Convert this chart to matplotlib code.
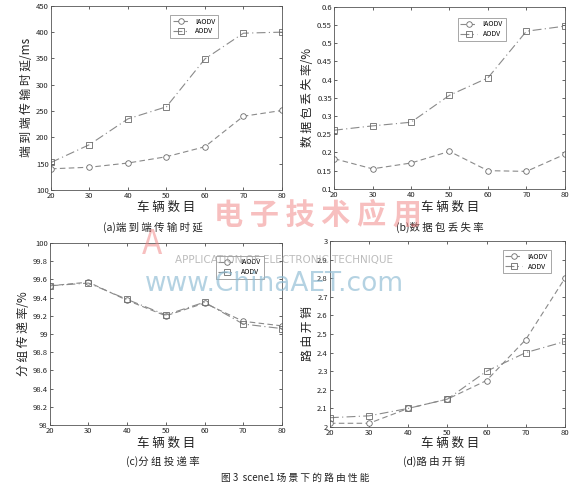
import matplotlib.pyplot as plt
from matplotlib.ticker import FuncFormatter

plt.rcParams['font.family'] = ['Noto Sans CJK SC', 'DejaVu Sans']

vehicles = [20, 30, 40, 50, 60, 70, 80]

delay_iaodv = [140, 143, 151, 163, 182, 240, 251]
delay_aodv = [152, 186, 235, 258, 349, 398, 400]

loss_iaodv = [0.183, 0.155, 0.171, 0.203, 0.150, 0.148, 0.195]
loss_aodv = [0.261, 0.273, 0.283, 0.357, 0.405, 0.533, 0.547]

pdr_iaodv = [99.53, 99.57, 99.37, 99.20, 99.34, 99.14, 99.09]
pdr_aodv = [99.53, 99.56, 99.38, 99.21, 99.35, 99.11, 99.06]

ovh_iaodv = [2.02, 2.02, 2.10, 2.15, 2.25, 2.47, 2.80]
ovh_aodv = [2.05, 2.06, 2.10, 2.15, 2.30, 2.40, 2.46]

LINE = "#8a8a8a"
INK = "#222222"

fig = plt.figure(figsize=(5.86, 4.88), dpi=100)
fig.patch.set_facecolor("white")

panels = [
    dict(pos=[0.087, 0.611, 0.394, 0.377], a=delay_iaodv, b=delay_aodv,
         ylim=(100, 450), step=50, ylabel="端 到 端 传 输 时 延/ms",
         leg=(0.50, 0.97)),
    dict(pos=[0.570, 0.613, 0.394, 0.373], a=loss_iaodv, b=loss_aodv,
         ylim=(0.1, 0.6), step=0.05, ylabel="数 据 包 丢 失 率/%",
         leg=(0.52, 0.96)),
    dict(pos=[0.085, 0.129, 0.396, 0.373], a=pdr_iaodv, b=pdr_aodv,
         ylim=(98, 100), step=0.2, ylabel="分 组 传 递 率/%",
         leg=(0.70, 0.95)),
    dict(pos=[0.563, 0.125, 0.401, 0.381], a=ovh_iaodv, b=ovh_aodv,
         ylim=(2, 3), step=0.1, ylabel="路 由 开 销",
         leg=(0.72, 0.97)),
]

fmt = FuncFormatter(lambda v, p: ("%.4f" % v).rstrip("0").rstrip("."))

for p in panels:
    ax = fig.add_axes(p["pos"])
    ax.plot(vehicles, p["a"], linestyle=(0, (5, 3)), color=LINE, lw=0.8,
            marker="o", ms=4, mfc="white", mec="#6a6a6a", mew=0.6, label="IAODV")
    ax.plot(vehicles, p["b"], linestyle=(0, (8, 3, 1, 3)), color=LINE, lw=0.8,
            marker="s", ms=4, mfc="none", mec="#6a6a6a", mew=0.6, label="AODV")
    lo, hi = p["ylim"]
    n = int(round((hi - lo) / p["step"]))
    ax.set_ylim(lo, hi)
    ax.set_yticks([lo + i * p["step"] for i in range(n + 1)])
    ax.yaxis.set_major_formatter(fmt)
    ax.set_xlim(20, 80)
    ax.set_xticks(vehicles)
    ax.tick_params(direction="in", top=True, right=True, labelsize=5.5,
                   length=2.5, width=0.5, colors=INK, pad=1.5)
    for s in ax.spines.values():
        s.set_linewidth(0.6)
        s.set_color("#555555")
    ax.set_ylabel(p["ylabel"], fontsize=8.5, color=INK, labelpad=2)
    leg = ax.legend(loc="upper left", bbox_to_anchor=p["leg"], fontsize=5,
                    frameon=True, fancybox=False, handlelength=2.4,
                    borderpad=0.4, labelspacing=0.25, handletextpad=0.8)
    leg.get_frame().set_edgecolor("#666666")
    leg.get_frame().set_linewidth(0.5)

# axis labels and captions
for x, y in [(166, 207), (450, 207), (166, 443), (450, 443)]:
    fig.text(x / 586, 1 - y / 488, "车 辆 数 目", ha="center", va="center",
             fontsize=9, color=INK)
fig.text(153 / 586, 1 - 227 / 488, "(a)端 到 端 传 输 时 延", ha="center", va="center", fontsize=7.5, color=INK)
fig.text(440 / 586, 1 - 227 / 488, "(b)数 据 包 丢 失 率", ha="center", va="center", fontsize=7.5, color=INK)
fig.text(163 / 586, 1 - 461 / 488, "(c)分 组 投 递 率", ha="center", va="center", fontsize=7.5, color=INK)
fig.text(434 / 586, 1 - 461 / 488, "(d)路 由 开 销", ha="center", va="center", fontsize=7.5, color=INK)
fig.text(295 / 586, 1 - 478 / 488, "图 3  scene1 场 景 下 的 路 由 性 能", ha="center", va="center",
         fontsize=7, color=INK)

# watermark
fig.text(318 / 586, 1 - 214 / 488, "电 子 技 术 应 用", ha="center", va="center",
         fontsize=21, color="#f08080", alpha=0.5, style="italic", fontweight="bold")
fig.text(152 / 586, 1 - 244 / 488, "A", ha="center", va="center", fontsize=24,
         color="#f08080", alpha=0.5, style="italic")
fig.text(284 / 586, 1 - 260 / 488, "APPLICATION OF ELECTRONIC TECHNIQUE", ha="center",
         va="center", fontsize=7.5, color="#a0a0a0", alpha=0.7, family="DejaVu Sans")
fig.text(274 / 586, 1 - 284 / 488, "www.ChinaAET.com", ha="center", va="center",
         fontsize=19, color="#8dbbd3", alpha=0.65, family="DejaVu Sans")

fig.savefig("out.png", dpi=100, facecolor="white")
